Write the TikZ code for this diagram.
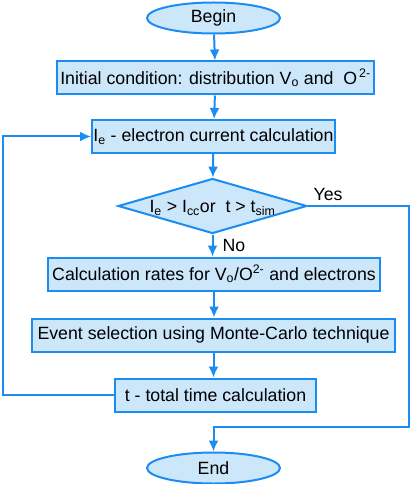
\documentclass[tikz,border=0pt]{standalone}
\usepackage{fontspec}
\setmainfont{Liberation Sans}
\usetikzlibrary{shapes.geometric,arrows.meta}
\definecolor{flowline}{HTML}{1A8CF2}
\definecolor{flowfill}{HTML}{CCE6FA}
\tikzset{
  terminal/.style={ellipse,draw=flowline,fill=flowfill,line width=2bp,inner sep=0pt,minimum width=133bp,minimum height=31bp},
  process/.style={rectangle,draw=flowline,fill=flowfill,line width=2bp,inner sep=0pt,minimum height=33bp},
  decision/.style={diamond,draw=flowline,fill=flowfill,line width=2bp,inner sep=0pt,minimum width=189bp,minimum height=55bp,shape aspect=3.4},
  flow/.style={draw=flowline,line width=2bp,-{Latex[length=11bp,width=10bp]}}
}
\begin{document}
\begin{tikzpicture}[x=1bp,y=-1bp,font=\fontsize{17.8}{20}\selectfont]
  \useasboundingbox (0,0) rectangle (411,484);
  \node[terminal] (begin) at (213.5,18) {Begin};
  \node[process,minimum width=317bp] (init) at (215.5,78)
    {Initial condition: distribution V\textsubscript{o} and\ \ O\textsuperscript{\,2-}};
  \node[process,minimum width=243bp] (ie) at (213.5,136.5)
    {I\textsubscript{e} - electron current calculation};
  \node[decision,label={[yshift=-2bp]center:I\textsubscript{e} > I\textsubscript{cc}or\ \ t > t\textsubscript{sim}}] (dec) at (212.5,206) {};
  \node (yes) at (328,194) {Yes};
  \node (no) at (234,245) {No};
  \node[process,minimum width=332bp] (calc) at (214,274)
    {Calculation rates for V\textsubscript{o}/O\textsuperscript{2-} and electrons};
  \node[process,minimum width=363bp] (event) at (213.5,335)
    {Event selection using Monte-Carlo technique};
  \node[process,minimum width=201bp] (tbox) at (215.5,395)
    {t - total time calculation};
  \node[terminal] (end) at (213.5,468) {End};
  \coordinate (loop) at (2.5,395);
  \coordinate (exit) at (409,427);
  % main chain
  \draw[flow] (begin) -- (init);
  \draw[flow] (init) -- (ie);
  \draw[flow] (ie) -- (dec);
  \draw[flow] (dec) -- (dec |- calc.north);
  \draw[flow] (calc) -- (calc |- event.north);
  \draw[flow] (event) -- (event |- tbox.north);
  % loop back and exit
  \draw[flow] (tbox.west) -- (loop) |- (ie.west);
  \draw[flow] (dec.east) -| (exit) -| (end.north);
\end{tikzpicture}
\end{document}
